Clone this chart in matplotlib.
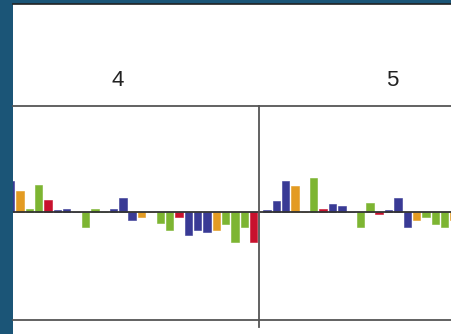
import numpy as np
import matplotlib.pyplot as plt
from matplotlib.lines import Line2D

# facet values, one bar per slot (0 means no bar)
colors = {'B': '#393a95', 'O': '#e39b22', 'G': '#7db532', 'R': '#c8112d'}

slots_4 = list(range(-1, 26))
vals_4 = [3.1, 2.1, 0.3, 2.7, 1.2, 0.2, 0.3, 0.0, -1.5, 0.3, 0.0, 0.3, 1.4, -0.8,
          -0.5, 0.0, -1.1, -1.8, -0.5, -2.3, -1.8, -2.0, -1.8, -1.2, -3.0, -1.5, -3.0]
cols_4 = ['B', 'O', 'G', 'G', 'R', 'B', 'B', 'B', 'G', 'G', 'G', 'B', 'B', 'B',
          'O', 'O', 'G', 'G', 'R', 'B', 'B', 'B', 'O', 'G', 'G', 'G', 'R']

slots_5 = list(range(0, 21))
vals_5 = [0.15, 1.1, 3.1, 2.6, 0.0, 3.4, 0.3, 0.8, 0.6, 0.0, -1.5, 0.9, -0.2,
          0.2, 1.4, -1.5, -0.8, -0.5, -1.2, -1.5, -0.8]
cols_5 = ['B', 'B', 'B', 'O', 'O', 'G', 'R', 'B', 'B', 'B', 'G', 'G', 'R',
          'B', 'B', 'B', 'O', 'G', 'G', 'G', 'O']

facet_labels = ['4', '5']

W, H = 452, 334
fig = plt.figure(figsize=(W / 100, H / 100), dpi=100)
fig.patch.set_facecolor('#1b5577')


def fx(px):
    return px / W


def fy(py):
    return 1 - py / H


# white panel area
bg = fig.add_axes([fx(13), 0, 1 - fx(13), fy(3.5)])
bg.set_facecolor('white')
bg.set_xticks([])
bg.set_yticks([])
for s in bg.spines.values():
    s.set_visible(False)
fig.add_artist(Line2D([fx(13), 1], [fy(3.8), fy(3.8)], color='#222222', lw=1.2))

pitch = 9.35
panels = [
    (13, 259, 20, slots_4, vals_4, cols_4),
    (259, 452, 267, slots_5, vals_5, cols_5),
]
ytop, ybot, ybase, unit = 106, 320, 212, 10.0

for left, right, x0, slots, vals, cols in panels:
    ax = fig.add_axes([fx(left), fy(ybot), fx(right - left), (ybot - ytop) / H])
    ax.patch.set_alpha(0)
    ax.set_xlim((left - x0) / pitch, (right - x0) / pitch)
    ax.set_ylim((ybase - ybot) / unit, (ybase - ytop) / unit)
    for s in ['left', 'right']:
        ax.spines[s].set_visible(False)
    for s in ['top', 'bottom']:
        ax.spines[s].set_color('#555555')
        ax.spines[s].set_linewidth(1.3)
    ax.set_xticks([])
    ax.set_yticks([])
    ax.bar(slots, vals, width=0.8, color=[colors[c] for c in cols],
           edgecolor=[colors[c] for c in cols], linewidth=0.4, zorder=2)
    ax.axhline(0, color='#333333', lw=1.3, zorder=3)

# facet divider
fig.add_artist(Line2D([fx(259), fx(259)], [fy(106), fy(327)], color='#555555', lw=1.3))

fig.text(fx(117.5), fy(80.5), facet_labels[0], ha='center', va='center',
         fontsize=16, family='Liberation Sans', color='#222222')
fig.text(fx(392), fy(80.5), facet_labels[1], ha='center', va='center',
         fontsize=16, family='Liberation Sans', color='#222222')

fig.savefig('out.png', dpi=100, facecolor=fig.get_facecolor())
